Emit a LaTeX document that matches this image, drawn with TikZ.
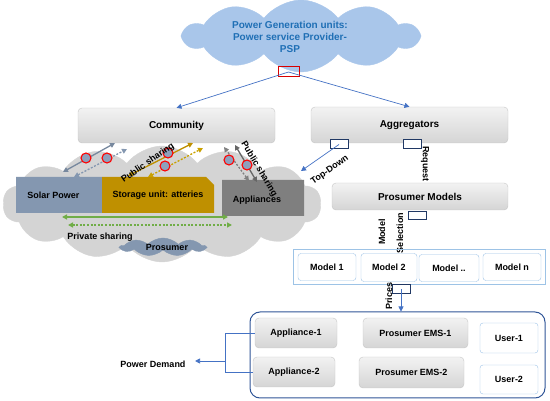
\documentclass[tikz,border=0pt]{standalone}
\usepackage{fontspec}
\setmainfont{Liberation Sans}
\usetikzlibrary{shapes,shapes.symbols,shapes.misc,arrows.meta,positioning,calc}
\definecolor{linkblue}{HTML}{4472C4}
\definecolor{portblue}{HTML}{203864}
\definecolor{frameblue}{HTML}{2F5597}
\definecolor{lightframe}{HTML}{9DC3E6}
\definecolor{skyfill}{HTML}{A9C6EA}
\definecolor{skytext}{HTML}{1F6FB5}
\definecolor{solarc}{HTML}{8497B0}
\definecolor{storec}{HTML}{BF9000}
\definecolor{applc}{HTML}{7F7F7F}
\definecolor{cloudgray}{HTML}{D4D4D4}
\definecolor{sharegreen}{HTML}{70AD47}
\definecolor{dotfill}{HTML}{8EA0BC}

\begin{document}
\begin{tikzpicture}[x=1pt, y=-1pt,
    font=\bfseries\fontsize{9}{11}\selectfont,
    block/.style={rectangle, draw=gray!45, top color=gray!10, bottom color=gray!33, rounded corners=4pt, inner sep=0pt},
    unit/.style={chamfered rectangle, chamfered rectangle corners=north east, chamfered rectangle xsep=4pt, chamfered rectangle ysep=4pt, inner sep=0pt, draw=none},
    model/.style={rectangle, draw=lightframe, fill=white, rounded corners=3pt, inner sep=0pt},
    port/.style={rectangle, draw=portblue, line width=1pt, fill=white, minimum width=18pt, minimum height=9pt, inner sep=0pt},
    dot/.style={circle, draw=red, line width=1.1pt, fill=dotfill, minimum size=10pt, inner sep=0pt},
    arrow/.style={-{Triangle[length=5pt,width=5pt]}, linkblue, line width=0.7pt},
    share/.style={{Triangle[length=5pt,width=5pt]}-{Triangle[length=5pt,width=5pt]}, line width=1.3pt},
    dots/.style={dash pattern=on 2pt off 1.6pt},
    big/.style={font=\bfseries\fontsize{10}{12}\selectfont},
    puffy/.style={cloud, cloud ignores aspect, cloud puff arc=105}
]
\useasboundingbox (0,0) rectangle (550,401);

\node[puffy, cloud puffs=10, fill=skyfill, draw=skyfill, minimum width=234pt, minimum height=72pt] (psp) at (301,36) {};
\node[big, text=skytext, align=center] (psplbl) at (290,37) {Power Generation units:\\Power service Provider-\\PSP};
\node[rectangle, draw=red!85!black, line width=1pt, minimum width=21pt, minimum height=10pt, inner sep=0pt] (pspport) at (288.5,72) {};

\node[puffy, cloud puffs=14, fill=cloudgray, draw=cloudgray, minimum width=318pt, minimum height=116pt] (site) at (162,204) {};

\node[block, big, minimum width=197pt, minimum height=35pt] (comm) at (176.5,125.5) {Community};
\node[block, big, minimum width=197pt, minimum height=36pt] (aggr) at (409.5,125) {Aggregators};

\draw[arrow] (pspport.center) -- (comm.north);
\draw[arrow] (pspport.center) -- (aggr.north);

\node[unit, fill=solarc, minimum width=86pt, minimum height=36pt] (solar) at (59,195) {};
\node[anchor=west] (solarlbl) at (solar.west) {\hspace{8pt}Solar Power};
\node[unit, fill=storec, minimum width=112pt, minimum height=36pt] (store) at (158,195) {Storage unit: atteries};
\node[unit, fill=applc, minimum width=82pt, minimum height=36pt] (appl) at (263,198) {};
\node (appllbl) at (257,200) {Appliances};

% sharing towards the community
\coordinate (s1a) at (63,172);  \coordinate (s1b) at (115,143);
\coordinate (s2a) at (74,177);  \coordinate (s2b) at (127,149);
\coordinate (g1a) at (128,176); \coordinate (g1b) at (193,143);
\coordinate (g2a) at (148,177); \coordinate (g2b) at (203,148);
\coordinate (a1a) at (249,181); \coordinate (a1b) at (224,147);
\coordinate (a2a) at (257,182); \coordinate (a2b) at (235,145);
\draw[share, solarc!90!black] (s1a) -- (s1b);
\draw[share, dots, solarc] (s2a) -- (s2b);
\draw[share, storec] (g1a) -- (g1b);
\draw[share, dots, storec!85!yellow] (g2a) -- (g2b);
\draw[share, dots, gray] (a1a) -- (a1b);
\draw[share, gray!80!black] (a2a) -- (a2b);

\foreach \x/\y [count=\i] in {86/158, 107/158, 168/153, 165/166, 229/160, 247/165}
  \node[dot] (d\i) at (\x,\y) {};

\node[rotate=35] (pub1) at (148,163) {Public sharing};
\node[rotate=-59] (pub2) at (259,169) {Public sharing};

% private sharing
\coordinate (p1a) at (62,217);  \coordinate (p1b) at (228,217);
\coordinate (p2a) at (68,225);  \coordinate (p2b) at (232,225);
\draw[share, sharegreen] (p1a) -- (p1b);
\draw[share, dots, sharegreen] (p2a) -- (p2b);
\node (privlbl) at (100,237) {Private sharing};

\node[puffy, cloud puffs=9, cloud puff arc=90, fill=solarc, draw=solarc, minimum width=85pt, minimum height=18pt] (pros) at (163,247) {};
\node (proslbl) at (167,247) {Prosumer};

% aggregator side
\node[port] (tdport) at (339,144.5) {};
\node[port] (rqport) at (412,144.5) {};
\coordinate (tdend) at (301,171);
\draw[arrow] (tdport.center) -- (tdend);
\node[rotate=35] (tdlbl) at (330,170) {Top-Down};
\node[rotate=-90] (rqlbl) at (425,164) {Request};

\node[block, big, minimum width=176pt, minimum height=27pt] (pm) at (420,196.5) {Prosumer Models};
\node[port, minimum height=8pt] (msport) at (417,215.5) {};
\node[rotate=90] (msl1) at (382,232) {Model};
\node[rotate=90] (msl2) at (400,233) {Selection};

\node[chamfered rectangle, chamfered rectangle xsep=4pt, chamfered rectangle ysep=4pt, draw=lightframe, line width=0.8pt, minimum width=252pt, minimum height=35pt, inner sep=0pt] (models) at (419,266.5) {};
\node[model, minimum width=58pt, minimum height=27pt] (m1) at (327,267) {Model 1};
\node[model, minimum width=56pt, minimum height=28pt] (m2) at (389,267.5) {Model 2};
\node[model, minimum width=60pt, minimum height=27pt] (m3) at (449,268) {\raisebox{-2pt}{Model ..}};
\node[model, minimum width=58pt, minimum height=27pt] (mn) at (512,267) {Model n};

\node[port] (prport) at (401,289.5) {};
\node[rotate=90] (prlbl) at (389,296) {Prices};

% prosumer side
\node[rectangle, draw=frameblue, line width=1pt, rounded corners=10pt, minimum width=295pt, minimum height=86pt] (homes) at (397.5,355) {};
\draw[arrow] (prport.center) -- (prport.center |- homes.north);

\node[block, minimum width=82pt, minimum height=30pt] (app1) at (296,333) {Appliance-1};
\node[block, minimum width=82pt, minimum height=30pt] (app2) at (294,372) {Appliance-2};
\node[block, minimum width=105pt, minimum height=30pt] (ems1) at (415.5,333) {Prosumer EMS-1};
\node[block, minimum width=105pt, minimum height=31pt] (ems2) at (411.5,372.5) {Prosumer EMS-2};
\node[model, minimum width=58pt, minimum height=30pt] (u1) at (509,338) {\raisebox{-2pt}{User-1}};
\node[model, minimum width=58pt, minimum height=29pt] (u2) at (509,379.5) {\raisebox{-3pt}{User-2}};

\node (pdlbl) at (153,364) {Power Demand};
\coordinate (brk) at (225,361);
\draw[linkblue, line width=0.7pt] (app1.west) -| (brk);
\draw[linkblue, line width=0.7pt] (app2.west) -| (brk);
\draw[arrow, shorten >=6pt] (brk) -- (pdlbl.east |- brk);
\end{tikzpicture}
\end{document}
